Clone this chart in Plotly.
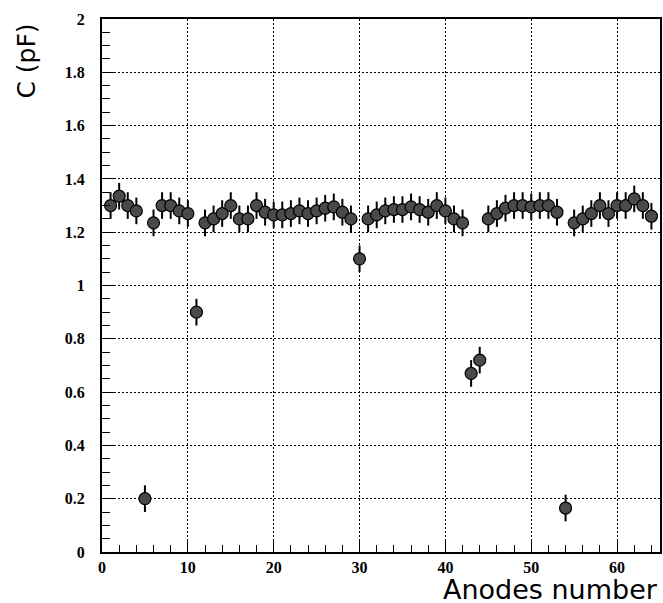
import plotly.graph_objects as go

anode = list(range(1, 65))
capacitance = [
    1.30, 1.335, 1.30, 1.28, 0.20, 1.235, 1.30, 1.30, 1.28, 1.27,
    0.90, 1.235, 1.25, 1.27, 1.30, 1.25, 1.25, 1.30, 1.275, 1.265,
    1.265, 1.27, 1.28, 1.27, 1.28, 1.29, 1.295, 1.275, 1.25, 1.10,
    1.25, 1.265, 1.28, 1.285, 1.285, 1.295, 1.285, 1.275, 1.30, 1.28,
    1.25, 1.235, 0.67, 0.72, 1.25, 1.27, 1.29, 1.30, 1.30, 1.295,
    1.30, 1.30, 1.275, 0.165, 1.235, 1.25, 1.27, 1.30, 1.27, 1.30,
    1.30, 1.325, 1.30, 1.26,
]
errors = [0.05] * len(anode)

x_ticks = [0, 10, 20, 30, 40, 50, 60]
y_ticks = [0, 0.2, 0.4, 0.6, 0.8, 1.0, 1.2, 1.4, 1.6, 1.8, 2.0]
y_ticklabels = ["0", "0.2", "0.4", "0.6", "0.8", "1", "1.2", "1.4", "1.6", "1.8", "2"]

fig = go.Figure()
fig.add_trace(go.Scatter(
    x=anode, y=capacitance, mode="markers",
    error_y=dict(type="data", array=errors, color="black", thickness=2, width=0),
    marker=dict(symbol="circle", size=12, color="#4a4a4a",
                line=dict(color="black", width=1.2)),
    showlegend=False,
))

tickfont = dict(family="Liberation Serif", size=16, color="black", weight="bold")
grid_dash = "2px,2px"
fig.update_xaxes(
    range=[0, 65], tickvals=x_ticks, ticktext=[str(v) for v in x_ticks],
    ticks="inside", ticklen=13, tickwidth=1, tickcolor="black",
    minor=dict(dtick=2, tick0=0, ticks="inside", ticklen=7, tickcolor="black", showgrid=False),
    showline=True, linecolor="black", linewidth=2, mirror=True,
    showgrid=True, gridcolor="black", gridwidth=1, griddash=grid_dash,
    zeroline=False, tickfont=tickfont,
)
fig.update_yaxes(
    range=[0, 2], tickvals=y_ticks, ticktext=y_ticklabels,
    ticks="inside", ticklen=14, tickwidth=1, tickcolor="black",
    minor=dict(dtick=0.05, tick0=0, ticks="inside", ticklen=8, tickcolor="black", showgrid=False),
    showline=True, linecolor="black", linewidth=2, mirror=True,
    showgrid=True, gridcolor="black", gridwidth=1, griddash=grid_dash,
    zeroline=False, tickfont=tickfont, ticklabelstandoff=12,
)

fig.add_annotation(
    text="Anodes number", xref="paper", yref="paper", x=1.0, y=-0.038,
    xanchor="right", yanchor="top", showarrow=False,
    font=dict(family="DejaVu Sans", size=27, color="black"),
)
fig.add_annotation(
    text="C (pF)", xref="paper", yref="paper", x=-0.105, y=0.996,
    xanchor="right", yanchor="top", textangle=-90, showarrow=False,
    font=dict(family="DejaVu Sans", size=25, color="black"),
)

fig.update_layout(
    width=663, height=603,
    margin=dict(l=102, r=1, t=19, b=51),
    paper_bgcolor="white", plot_bgcolor="white",
)
fig.write_html("out.html", config={"displayModeBar": False},
               post_script="document.body.style.margin='0';document.body.style.overflow='hidden';")
